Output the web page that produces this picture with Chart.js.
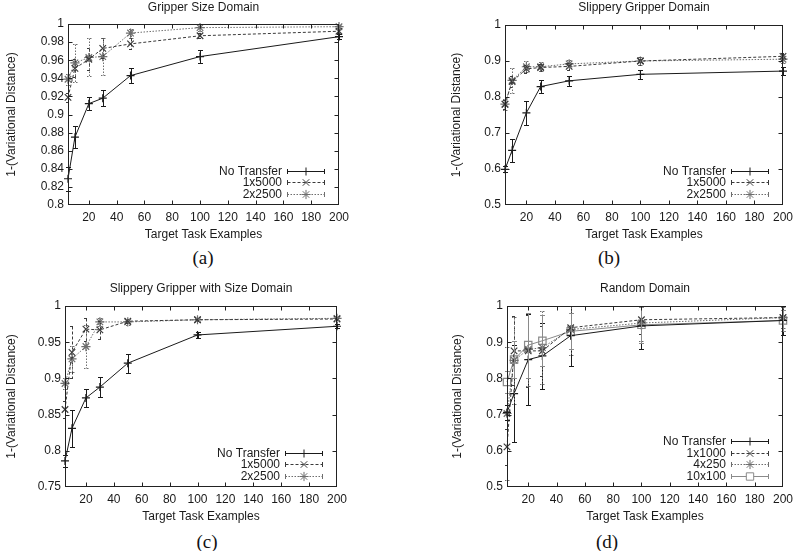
<!DOCTYPE html>
<html><head><meta charset="utf-8">
<script src="https://cdn.jsdelivr.net/npm/chart.js@4.4.1/dist/chart.umd.min.js"></script>
<style>
body{margin:0;background:#fff;width:798px;height:551px;overflow:hidden;position:relative;}
canvas{position:absolute;}
.cap{position:absolute;font-family:"Liberation Serif","Times New Roman",serif;font-size:19px;color:#111;transform:translate(-50%,-50%);line-height:1;white-space:nowrap;}
</style></head><body>
<canvas id="ca" width="400" height="245" style="left:0;top:0"></canvas>
<canvas id="cb" width="398" height="245" style="left:400px;top:0"></canvas>
<canvas id="cc" width="400" height="246" style="left:0;top:281px"></canvas>
<canvas id="cd" width="398" height="246" style="left:400px;top:281px"></canvas>
<div class="cap" style="left:203px;top:257px">(a)</div>
<div class="cap" style="left:609px;top:257px">(b)</div>
<div class="cap" style="left:207px;top:541px">(c)</div>
<div class="cap" style="left:607px;top:541px">(d)</div>
<script>
// ---- data ----
const xs = [5, 10, 20, 30, 50, 100, 200];
const xTicks = [20, 40, 60, 80, 100, 120, 140, 160, 180, 200];

const titles = ["Gripper Size Domain", "Slippery Gripper Domain", "Slippery Gripper with Size Domain", "Random Domain"];
const xTitle = "Target Task Examples";
const yTitle = "1-(Variational Distance)";

const yTicksA = [0.8, 0.82, 0.84, 0.86, 0.88, 0.9, 0.92, 0.94, 0.96, 0.98, 1];
const yTicksB = [0.5, 0.6, 0.7, 0.8, 0.9, 1];
const yTicksC = [0.75, 0.8, 0.85, 0.9, 0.95, 1];
const yTicksD = [0.5, 0.6, 0.7, 0.8, 0.9, 1];

// (a) Gripper Size Domain
const aNo      = [0.829, 0.875, 0.912, 0.918, 0.943, 0.964, 0.986];
const aNoErr   = [0.013, 0.012, 0.007, 0.009, 0.008, 0.007, 0.003];
const a1x5000  = [0.919, 0.951, 0.961, 0.973, 0.978, 0.987, 0.992];
const a1x5000E = [0.005, 0.010, 0.012, 0.011, 0.006, 0.003, 0.002];
const a2x2500  = [0.939, 0.957, 0.963, 0.964, 0.990, 0.996, 0.997];
const a2x2500E = [0.006, 0.021, 0.021, 0.020, 0.005, 0.004, 0.002];

// (b) Slippery Gripper Domain
const bNo      = [0.599, 0.652, 0.756, 0.829, 0.845, 0.863, 0.872];
const bNoErr   = [0.008, 0.032, 0.033, 0.018, 0.014, 0.012, 0.012];
const b1x5000  = [0.780, 0.843, 0.878, 0.882, 0.885, 0.900, 0.913];
const b1x5000E = [0.012, 0.015, 0.012, 0.010, 0.010, 0.010, 0.010];
const b2x2500  = [0.780, 0.846, 0.884, 0.884, 0.892, 0.900, 0.905];
const b2x2500E = [0.015, 0.035, 0.015, 0.012, 0.010, 0.012, 0.010];

// (c) Slippery Gripper with Size Domain
const cNo      = [0.786, 0.831, 0.873, 0.888, 0.921, 0.960, 0.972];
const cNoErr   = [0.008, 0.026, 0.013, 0.014, 0.013, 0.004, 0.003];
const c1x5000  = [0.857, 0.936, 0.968, 0.967, 0.979, 0.981, 0.982];
const c1x5000E = [0.012, 0.036, 0.016, 0.012, 0.003, 0.002, 0.002];
const c2x2500  = [0.893, 0.927, 0.944, 0.978, 0.978, 0.981, 0.983];
const c2x2500E = [0.008, 0.018, 0.030, 0.005, 0.004, 0.002, 0.002];

// (d) Random Domain
const dNo      = [0.706, 0.758, 0.852, 0.862, 0.918, 0.945, 0.960];
const dNoErr   = [0.020, 0.135, 0.125, 0.090, 0.083, 0.065, 0.040];
const d1x1000  = [0.611, 0.876, 0.876, 0.876, 0.940, 0.962, 0.968];
const d1x1000E = [0.050, 0.095, 0.100, 0.070, 0.060, 0.040, 0.030];
const d4x250   = [0.703, 0.850, 0.880, 0.885, 0.935, 0.953, 0.968];
const d4x250E  = [0.185, 0.120, 0.100, 0.100, 0.070, 0.050, 0.030];
const d10x100  = [0.790, 0.852, 0.892, 0.904, 0.930, 0.948, 0.960];
const d10x100E = [0.030, 0.050, 0.090, 0.070, 0.050, 0.050, 0.030];

// ---- styles ----
const FONT = '"Liberation Sans", Arial, Helvetica, sans-serif';
const TXT = '#1a1a1a';
const STY = {
  none:  {borderColor:'#1a1a1a', borderDash:[],        pointStyle:'cross',    pointRadius:4},
  dash:  {borderColor:'#3a3a3a', borderDash:[3,2],     pointStyle:'crossRot', pointRadius:4.6},
  dot:   {borderColor:'#6e6e6e', borderDash:[1.5,1.5], pointStyle:'star',     pointRadius:4.6},
  sq:    {borderColor:'#8a8a8a', borderDash:[],        pointStyle:'rect',     pointRadius:5.2}
};

function series(label, vals, errs, sty) {
  const s = STY[sty];
  return {
    label, data: xs.map((x, i) => ({x, y: vals[i]})), yErr: errs,
    borderColor: s.borderColor, borderWidth: 1, borderDash: s.borderDash,
    pointStyle: s.pointStyle, pointRadius: s.pointRadius, pointBorderColor: s.borderColor,
    pointBackgroundColor: 'rgba(255,255,255,0)', pointBorderWidth: 1.2, fill: false, tension: 0, clip: false
  };
}

// ---- plugins ----
const errPlugin = {
  id: 'errbars',
  afterDatasetsDraw(chart) {
    const {ctx, chartArea: a} = chart;
    const ys = chart.scales.y;
    ctx.save();
    ctx.beginPath(); ctx.rect(a.left - 5, a.top, a.right - a.left + 10, a.bottom - a.top); ctx.clip();
    chart.data.datasets.forEach((ds, i) => {
      const meta = chart.getDatasetMeta(i);
      ctx.strokeStyle = ds.borderColor; ctx.lineWidth = 1; ctx.setLineDash(ds.borderDash || []);
      meta.data.forEach((pt, j) => {
        const v = ds.data[j].y, e = ds.yErr[j];
        const x = Math.round(pt.x) + 0.5;
        const y1 = Math.round(ys.getPixelForValue(v + e)) + 0.5, y2 = Math.round(ys.getPixelForValue(v - e)) + 0.5;
        ctx.beginPath();
        ctx.moveTo(x, y1); ctx.lineTo(x, y2);
        ctx.moveTo(x - 2.5, y1); ctx.lineTo(x + 2.5, y1);
        ctx.moveTo(x - 2.5, y2); ctx.lineTo(x + 2.5, y2);
        ctx.stroke();
      });
    });
    ctx.restore();
  }
};

const framePlugin = {
  id: 'frame',
  afterDraw(chart) {
    const {ctx, chartArea: a} = chart;
    const sx = chart.scales.x, sy = chart.scales.y;
    const L = Math.round(a.left) + 0.5, R = Math.round(a.right) - 0.5, T = Math.round(a.top) + 0.5, B = Math.round(a.bottom) - 0.5;
    ctx.save();
    ctx.strokeStyle = '#222'; ctx.lineWidth = 1; ctx.setLineDash([]);
    ctx.strokeRect(L, T, R - L, B - T);
    ctx.beginPath();
    sx.ticks.forEach(t => {
      const px = Math.round(sx.getPixelForValue(t.value)) + 0.5;
      if (px > R - 1) return;
      ctx.moveTo(px, B); ctx.lineTo(px, B - 4);
      ctx.moveTo(px, T); ctx.lineTo(px, T + 4);
    });
    sy.ticks.forEach(t => {
      const py = Math.round(sy.getPixelForValue(t.value)) + 0.5;
      if (py < T + 1 || py > B - 1) return;
      ctx.moveTo(L, py); ctx.lineTo(L + 4, py);
      ctx.moveTo(R, py); ctx.lineTo(R - 4, py);
    });
    ctx.stroke();
    ctx.restore();
  }
};

const keyPlugin = {
  id: 'key',
  afterDraw(chart) {
    const {ctx, chartArea: a} = chart;
    const dsets = chart.data.datasets, n = dsets.length;
    ctx.save();
    ctx.font = '12px ' + FONT;
    ctx.textAlign = 'right'; ctx.textBaseline = 'middle';
    dsets.forEach((ds, i) => {
      const y = Math.round(a.bottom - 11 - (n - 1 - i) * 11.6) + 0.5;
      ctx.fillStyle = TXT;
      ctx.fillText(ds.label, a.right - 57, y);
      const x1 = Math.round(a.right - 52) + 0.5, x2 = Math.round(a.right - 15) + 0.5;
      ctx.strokeStyle = ds.borderColor; ctx.lineWidth = 1; ctx.setLineDash(ds.borderDash || []);
      ctx.beginPath(); ctx.moveTo(x1, y); ctx.lineTo(x2, y); ctx.stroke();
      ctx.setLineDash([]);
      ctx.beginPath();
      ctx.moveTo(x1, y - 2.5); ctx.lineTo(x1, y + 2.5);
      ctx.moveTo(x2, y - 2.5); ctx.lineTo(x2, y + 2.5);
      ctx.stroke();
      if (Chart.helpers && Chart.helpers.drawPoint) {
        ctx.fillStyle = '#fff';
        Chart.helpers.drawPoint(ctx, {pointStyle: ds.pointStyle, radius: ds.pointRadius, borderWidth: 1, rotation: 0}, Math.round((x1 + x2) / 2), y);
      }
    });
    ctx.restore();
  }
};

function makeChart(id, title, yMin, yMax, yTicks, datasets, g) {
  return new Chart(document.getElementById(id), {
    type: 'line',
    data: {datasets},
    plugins: [errPlugin, framePlugin, keyPlugin],
    options: {
      responsive: false, animation: false, devicePixelRatio: 1,
      layout: {padding: {left: g.padL, right: g.padR, top: 0, bottom: 0}},
      plugins: {
        legend: {display: false}, tooltip: {enabled: false},
        title: {display: true, text: title, fullSize: false, color: TXT,
          font: {size: 12, weight: 'normal', family: FONT, lineHeight: 1.2},
          padding: {top: 0, bottom: g.titleBottom}}
      },
      scales: {
        x: {
          type: 'linear', min: 5, max: 200,
          afterBuildTicks: s => { s.ticks = xTicks.map(v => ({value: v})); },
          afterFit: s => { s.height = 40; },
          grid: {display: false, drawTicks: false}, border: {display: false},
          ticks: {padding: 5, color: TXT, font: {size: 12, family: FONT}, maxRotation: 0, autoSkip: false},
          title: {display: true, text: xTitle, color: TXT, font: {size: 12, family: FONT, lineHeight: 1.2}, padding: {top: 0, bottom: 2.8}}
        },
        y: {
          type: 'linear', min: yMin, max: yMax,
          afterBuildTicks: s => { s.ticks = yTicks.map(v => ({value: v})); },
          afterFit: s => { s.width = g.axisW; },
          grid: {display: false, drawTicks: false}, border: {display: false},
          ticks: {padding: 4, color: TXT, font: {size: 12, family: FONT}, autoSkip: false,
            callback: v => String(+Number(v).toFixed(2))},
          title: {display: true, text: yTitle, color: TXT, font: {size: 12, family: FONT, lineHeight: 1.2}, padding: {top: 4.8, bottom: 0}}
        }
      }
    }
  });
}

makeChart('ca', titles[0], 0.8, 1, yTicksA, [
  series('No Transfer', aNo, aNoErr, 'none'),
  series('1x5000', a1x5000, a1x5000E, 'dash'),
  series('2x2500', a2x2500, a2x2500E, 'dot')
], {padL: 0, axisW: 68, padR: 61, titleBottom: 9.6});

makeChart('cb', titles[1], 0.5, 1, yTicksB, [
  series('No Transfer', bNo, bNoErr, 'none'),
  series('1x5000', b1x5000, b1x5000E, 'dash'),
  series('2x2500', b2x2500, b2x2500E, 'dot')
], {padL: 45, axisW: 60, padR: 15, titleBottom: 10.6});

makeChart('cc', titles[2], 0.75, 1, yTicksC, [
  series('No Transfer', cNo, cNoErr, 'none'),
  series('1x5000', c1x5000, c1x5000E, 'dash'),
  series('2x2500', c2x2500, c2x2500E, 'dot')
], {padL: 0, axisW: 65, padR: 63, titleBottom: 10.6});

makeChart('cd', titles[3], 0.5, 1, yTicksD, [
  series('No Transfer', dNo, dNoErr, 'none'),
  series('1x1000', d1x1000, d1x1000E, 'dash'),
  series('4x250', d4x250, d4x250E, 'dot'),
  series('10x100', d10x100, d10x100E, 'sq')
], {padL: 46, axisW: 61, padR: 11, titleBottom: 10.6});
</script>
</body></html>
